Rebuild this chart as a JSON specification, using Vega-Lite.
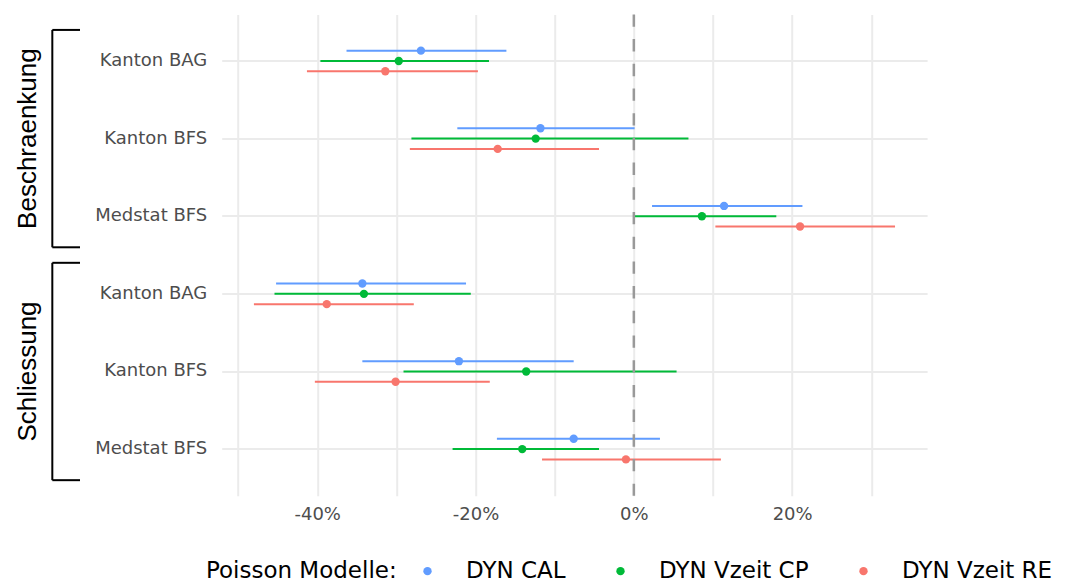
{
  "$schema": "https://vega.github.io/schema/vega-lite/v6.json",
  "width": 705.4,
  "height": 481.3,
  "autosize": {"type": "none"},
  "padding": {"left": 221.7, "top": 14.4, "right": 155, "bottom": 87.3},
  "background": "white",
  "config": {"view": {"stroke": null}, "font": "DejaVu Sans"},
  "datasets": {
    "est": [
      {"row": "Beschraenkung|Kanton BAG", "model": "DYN CAL", "est": -26.9, "lo": -36.3, "hi": -16.1},
      {"row": "Beschraenkung|Kanton BAG", "model": "DYN Vzeit CP", "est": -29.7, "lo": -39.6, "hi": -18.3},
      {"row": "Beschraenkung|Kanton BAG", "model": "DYN Vzeit RE", "est": -31.4, "lo": -41.3, "hi": -19.7},
      {"row": "Beschraenkung|Kanton BFS", "model": "DYN CAL", "est": -11.8, "lo": -22.3, "hi": 0.1},
      {"row": "Beschraenkung|Kanton BFS", "model": "DYN Vzeit CP", "est": -12.4, "lo": -28.1, "hi": 6.9},
      {"row": "Beschraenkung|Kanton BFS", "model": "DYN Vzeit RE", "est": -17.2, "lo": -28.3, "hi": -4.4},
      {"row": "Beschraenkung|Medstat BFS", "model": "DYN CAL", "est": 11.4, "lo": 2.3, "hi": 21.3},
      {"row": "Beschraenkung|Medstat BFS", "model": "DYN Vzeit CP", "est": 8.6, "lo": 0.0, "hi": 18.0},
      {"row": "Beschraenkung|Medstat BFS", "model": "DYN Vzeit RE", "est": 21.0, "lo": 10.3, "hi": 33.0},
      {"row": "Schliessung|Kanton BAG", "model": "DYN CAL", "est": -34.3, "lo": -45.2, "hi": -21.2},
      {"row": "Schliessung|Kanton BAG", "model": "DYN Vzeit CP", "est": -34.1, "lo": -45.4, "hi": -20.6},
      {"row": "Schliessung|Kanton BAG", "model": "DYN Vzeit RE", "est": -38.8, "lo": -48.0, "hi": -27.8},
      {"row": "Schliessung|Kanton BFS", "model": "DYN CAL", "est": -22.1, "lo": -34.3, "hi": -7.6},
      {"row": "Schliessung|Kanton BFS", "model": "DYN Vzeit CP", "est": -13.6, "lo": -29.1, "hi": 5.4},
      {"row": "Schliessung|Kanton BFS", "model": "DYN Vzeit RE", "est": -30.1, "lo": -40.3, "hi": -18.2},
      {"row": "Schliessung|Medstat BFS", "model": "DYN CAL", "est": -7.6, "lo": -17.3, "hi": 3.3},
      {"row": "Schliessung|Medstat BFS", "model": "DYN Vzeit CP", "est": -14.1, "lo": -22.9, "hi": -4.4},
      {"row": "Schliessung|Medstat BFS", "model": "DYN Vzeit RE", "est": -1.0, "lo": -11.6, "hi": 11.0}
    ],
    "brackets": [
      {"group": "Beschraenkung", "first": "Beschraenkung|Kanton BAG", "mid": "Beschraenkung|Kanton BFS", "last": "Beschraenkung|Medstat BFS"},
      {"group": "Schliessung", "first": "Schliessung|Kanton BAG", "mid": "Schliessung|Kanton BFS", "last": "Schliessung|Medstat BFS"}
    ],
    "zero": [{"v": 0}]
  },
  "layer": [
    {
      "data": {"name": "est"},
      "mark": {"type": "rule", "strokeWidth": 2},
      "encoding": {
        "x": {"field": "lo", "type": "quantitative",
          "scale": {"domain": [-52.07, 37.05], "nice": false, "zero": false},
          "axis": {"title": null, "values": [-50, -40, -30, -20, -10, 0, 10, 20, 30],
            "labelExpr": "datum.value % 20 === 0 ? datum.value + '%' : ''",
            "domain": false, "ticks": false, "grid": true, "gridColor": "#EBEBEB", "gridWidth": 2,
            "labelFont": "DejaVu Sans", "labelFontSize": 18, "labelColor": "#4D4D4D",
            "labelPadding": 10, "labelOverlap": false, "labelFlush": false}},
        "x2": {"field": "hi"},
        "y": {"field": "row", "type": "nominal",
          "scale": {"domain": ["Beschraenkung|Kanton BAG", "Beschraenkung|Kanton BFS", "Beschraenkung|Medstat BFS", "Schliessung|Kanton BAG", "Schliessung|Kanton BFS", "Schliessung|Medstat BFS"], "paddingInner": 0, "paddingOuter": 0.1},
          "axis": {"title": null, "labelExpr": "split(datum.value, '|')[1]",
            "domain": false, "ticks": false, "grid": true, "gridColor": "#EBEBEB", "gridWidth": 2,
            "labelFont": "DejaVu Sans", "labelFontSize": 18, "labelColor": "#4D4D4D",
            "labelPadding": 15, "labelOverlap": false}},
        "yOffset": {"field": "model", "type": "nominal",
          "scale": {"domain": ["DYN CAL", "DYN Vzeit CP", "DYN Vzeit RE"], "paddingInner": 0, "paddingOuter": 0, "range": [23.35, 54.25]}},
        "color": {"field": "model", "type": "nominal",
          "scale": {"domain": ["DYN CAL", "DYN Vzeit CP", "DYN Vzeit RE"], "range": ["#619CFF", "#00BA38", "#F8766D"]},
          "legend": {"orient": "none", "legendX": -15.7, "legendY": 545, "direction": "horizontal",
            "title": "Poisson Modelle:", "titleOrient": "left", "titleFont": "DejaVu Sans", "titleFontSize": 23,
            "titleFontWeight": "normal", "titleColor": "black", "titlePadding": 19, "titleLimit": 400,
            "labelFont": "DejaVu Sans", "labelFontSize": 23, "labelColor": "black", "labelOffset": 27, "labelLimit": 300,
            "columnPadding": 43, "symbolType": "circle", "symbolSize": 70, "symbolStrokeWidth": 0, "symbolOpacity": 1}}
      }
    },
    {
      "data": {"name": "est"},
      "mark": {"type": "circle", "size": 70, "opacity": 1},
      "encoding": {
        "x": {"field": "est", "type": "quantitative", "scale": {"domain": [-52.07, 37.05], "nice": false, "zero": false}},
        "y": {"field": "row", "type": "nominal",
          "scale": {"domain": ["Beschraenkung|Kanton BAG", "Beschraenkung|Kanton BFS", "Beschraenkung|Medstat BFS", "Schliessung|Kanton BAG", "Schliessung|Kanton BFS", "Schliessung|Medstat BFS"], "paddingInner": 0, "paddingOuter": 0.1}},
        "yOffset": {"field": "model", "type": "nominal",
          "scale": {"domain": ["DYN CAL", "DYN Vzeit CP", "DYN Vzeit RE"], "paddingInner": 0, "paddingOuter": 0, "range": [23.35, 54.25]}},
        "color": {"field": "model", "type": "nominal",
          "scale": {"domain": ["DYN CAL", "DYN Vzeit CP", "DYN Vzeit RE"], "range": ["#619CFF", "#00BA38", "#F8766D"]},
          "legend": {"orient": "none", "legendX": -15.7, "legendY": 545, "direction": "horizontal",
            "title": "Poisson Modelle:", "titleOrient": "left", "titleFont": "DejaVu Sans", "titleFontSize": 23,
            "titleFontWeight": "normal", "titleColor": "black", "titlePadding": 19, "titleLimit": 400,
            "labelFont": "DejaVu Sans", "labelFontSize": 23, "labelColor": "black", "labelOffset": 27, "labelLimit": 300,
            "columnPadding": 43, "symbolType": "circle", "symbolSize": 70, "symbolStrokeWidth": 0, "symbolOpacity": 1}}
      }
    },
    {
      "data": {"name": "zero"},
      "mark": {"type": "rule", "color": "#999999", "strokeWidth": 2.5, "strokeDash": [12.35, 12.35]},
      "encoding": {"x": {"field": "v", "type": "quantitative", "scale": {"domain": [-52.07, 37.05], "nice": false, "zero": false}}}
    },
    {
      "data": {"name": "brackets"},
      "mark": {"type": "rule", "color": "black", "strokeWidth": 2},
      "encoding": {
        "x": {"datum": -73.47, "type": "quantitative"},
        "y": {"field": "first", "type": "nominal", "bandPosition": 0.1},
        "y2": {"field": "last", "bandPosition": 0.9}
      }
    },
    {
      "data": {"name": "brackets"},
      "mark": {"type": "rule", "color": "black", "strokeWidth": 2},
      "encoding": {
        "x": {"datum": -73.47, "type": "quantitative"},
        "x2": {"datum": -69.97},
        "y": {"field": "first", "type": "nominal", "bandPosition": 0.1}
      }
    },
    {
      "data": {"name": "brackets"},
      "mark": {"type": "rule", "color": "black", "strokeWidth": 2},
      "encoding": {
        "x": {"datum": -73.47, "type": "quantitative"},
        "x2": {"datum": -69.97},
        "y": {"field": "last", "type": "nominal", "bandPosition": 0.9}
      }
    },
    {
      "data": {"name": "brackets"},
      "mark": {"type": "text", "angle": 270, "font": "Liberation Sans", "fontSize": 26, "color": "black", "align": "center", "baseline": "middle"},
      "encoding": {
        "x": {"datum": -76.5, "type": "quantitative"},
        "y": {"field": "mid", "type": "nominal"},
        "text": {"field": "group"}
      }
    }
  ]
}
